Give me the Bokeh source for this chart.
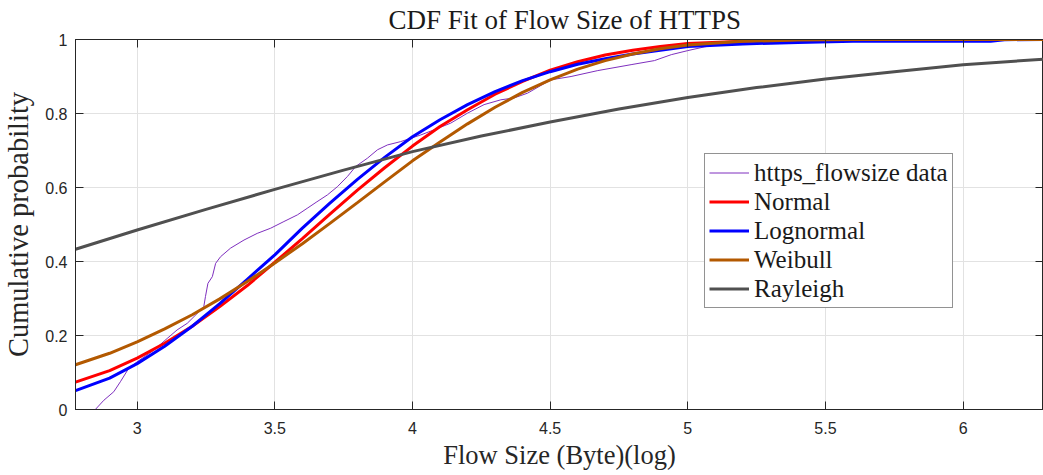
from bokeh.plotting import figure
from bokeh.models import Range1d, FixedTicker, LinearAxis, Legend, LegendItem
from bokeh.embed import file_html
from bokeh.resources import INLINE

# ---- data ----
fit_x = [2.776, 2.9, 3.0, 3.1, 3.2, 3.3, 3.4, 3.5, 3.6, 3.7, 3.8, 3.9, 4.0, 4.1, 4.2,
         4.3, 4.4, 4.5, 4.6, 4.7, 4.8, 4.9, 5.0, 5.2, 5.4, 5.6, 5.8, 6.0, 6.1, 6.15, 6.3]
normal_y = [0.074, 0.105, 0.139, 0.179, 0.225, 0.278, 0.335, 0.398, 0.462, 0.528, 0.593,
            0.654, 0.712, 0.765, 0.810, 0.852, 0.887, 0.917, 0.940, 0.958, 0.971, 0.981,
            0.989, 0.995, 0.998, 0.9995, 1.0, 1.0, 1.0, 1.0, 1.0]
lognormal_y = [0.051, 0.085, 0.124, 0.171, 0.225, 0.286, 0.352, 0.418, 0.490, 0.558, 0.622,
               0.682, 0.737, 0.783, 0.824, 0.859, 0.889, 0.913, 0.933, 0.948, 0.961, 0.971,
               0.981, 0.988, 0.992, 0.995, 0.995, 0.995, 0.995, 0.9995, 1.0]
weibull_y = [0.121, 0.152, 0.183, 0.218, 0.256, 0.299, 0.346, 0.396, 0.448, 0.503, 0.559,
             0.616, 0.672, 0.723, 0.772, 0.817, 0.857, 0.891, 0.920, 0.943, 0.961, 0.975,
             0.985, 0.995, 0.9986, 0.9997, 1.0, 1.0, 1.0, 1.0, 1.0]

ray_x = [2.776, 3.0, 3.25, 3.5, 3.75, 4.0, 4.25, 4.5, 4.75, 5.0, 5.25, 5.5, 5.75, 6.0, 6.3]
rayleigh_y = [0.433, 0.485, 0.541, 0.595, 0.647, 0.697, 0.739, 0.777, 0.812, 0.843,
              0.870, 0.893, 0.913, 0.932, 0.947]

data_x = [2.782, 2.848, 2.879, 2.915, 2.939, 2.969, 3.0, 3.06, 3.109, 3.145, 3.182, 3.224,
          3.242, 3.248, 3.257, 3.273, 3.285, 3.303, 3.339, 3.388, 3.436, 3.485, 3.533,
          3.582, 3.62, 3.65, 3.691, 3.727, 3.764, 3.794, 3.836, 3.873, 3.909, 3.957, 3.994,
          4.030, 4.079, 4.139, 4.2, 4.26, 4.321, 4.369, 4.418, 4.467, 4.503, 4.576, 4.673,
          4.794, 4.879, 4.94, 5.0, 5.06, 5.109, 5.182, 5.279, 5.5, 5.9]
data_y = [0.0, 0.0, 0.025, 0.048, 0.075, 0.111, 0.129, 0.160, 0.192, 0.215, 0.233, 0.264,
          0.278, 0.305, 0.341, 0.359, 0.395, 0.413, 0.436, 0.458, 0.476, 0.490, 0.508,
          0.526, 0.545, 0.560, 0.580, 0.602, 0.630, 0.657, 0.679, 0.702, 0.715, 0.724, 0.733,
          0.742, 0.756, 0.774, 0.801, 0.824, 0.837, 0.842, 0.855, 0.876, 0.891, 0.900, 0.916,
          0.932, 0.943, 0.959, 0.970, 0.980, 0.986, 0.992, 0.997, 0.999, 1.0]

x_ticks = [3, 3.5, 4, 4.5, 5, 5.5, 6]
x_tick_labels = ["3", "3.5", "4", "4.5", "5", "5.5", "6"]
y_ticks = [0, 0.2, 0.4, 0.6, 0.8, 1.0]
y_tick_labels = ["0", "0.2", "0.4", "0.6", "0.8", "1"]

series_names = ["https_flowsize data", "Normal", "Lognormal", "Weibull", "Rayleigh"]
series_colors = ["#7E2FBE", "#FF0000", "#0000FF", "#B35900", "#505050"]
title_text = "CDF Fit of Flow Size of HTTPS"

AX = "#262626"

p = figure(width=1043, height=475, output_backend="svg", toolbar_location=None,
           x_range=Range1d(2.776, 6.292), y_range=Range1d(0, 1),
           min_border_left=74, min_border_right=0, min_border_top=39, min_border_bottom=66,
           background_fill_color="white", border_fill_color="white")

p.outline_line_color = AX
p.outline_line_width = 1

p.title.text = title_text
p.title.align = "left"
p.title.offset = 313
p.title.vertical_align = "top"
p.title.text_font = "Liberation Serif"
p.title.text_font_size = "27px"
p.title.text_font_style = "normal"
p.title.text_color = "#1a1a1a"
p.title.standoff = 6

xt = FixedTicker(ticks=x_ticks)
yt = FixedTicker(ticks=y_ticks)

def style_axis(ax, labels=True):
    ax.axis_line_color = AX
    ax.axis_line_width = 1
    ax.major_tick_line_color = AX
    ax.major_tick_in = 8
    ax.major_tick_out = 0
    ax.minor_tick_line_color = None
    if labels:
        ax.major_label_text_font = "Liberation Sans"
        ax.major_label_text_font_size = "16px"
        ax.major_label_text_color = AX
    else:
        ax.major_label_text_font_size = "0px"
        ax.major_label_text_alpha = 0
        ax.major_label_standoff = 0

xa = p.xaxis[0]
xa.ticker = xt
xa.major_label_overrides = {t: l for t, l in zip(x_ticks, x_tick_labels)}
style_axis(xa)
xa.major_label_standoff = 12
xa.axis_label = "Flow Size (Byte)(log)"
xa.axis_label_text_font = "Liberation Serif"
xa.axis_label_text_font_size = "26.5px"
xa.axis_label_text_font_style = "normal"
xa.axis_label_text_color = AX
xa.axis_label_standoff = 3

ya = p.yaxis[0]
ya.ticker = yt
ya.major_label_overrides = {t: l for t, l in zip(y_ticks, y_tick_labels)}
style_axis(ya)
ya.major_label_standoff = 8
ya.axis_label = "Cumulative probability"
ya.axis_label_text_font = "Liberation Serif"
ya.axis_label_text_font_size = "28.5px"
ya.axis_label_text_font_style = "normal"
ya.axis_label_text_color = AX
ya.axis_label_standoff = 8

top = LinearAxis(ticker=xt)
style_axis(top, labels=False)
p.add_layout(top, "above")
right = LinearAxis(ticker=yt)
style_axis(right, labels=False)
p.add_layout(right, "right")

p.xgrid.ticker = xt
p.ygrid.ticker = yt
p.xgrid.grid_line_color = "#e2e2e2"
p.ygrid.grid_line_color = "#e2e2e2"

r_data = p.line(data_x, data_y, line_color=series_colors[0], line_width=1)
r_norm = p.line(fit_x, normal_y, line_color=series_colors[1], line_width=3)
r_logn = p.line(fit_x, lognormal_y, line_color=series_colors[2], line_width=3)
r_weib = p.line(fit_x, weibull_y, line_color=series_colors[3], line_width=3)
r_ray = p.line(ray_x, rayleigh_y, line_color=series_colors[4], line_width=3)

rends = [r_data, r_norm, r_logn, r_weib, r_ray]
legend = Legend(items=[LegendItem(label=n, renderers=[r]) for n, r in zip(series_names, rends)],
                location=(629, 101), orientation="vertical",
                label_text_font="Liberation Serif", label_text_font_size="25px",
                label_text_color="#1a1a1a",
                glyph_width=40, glyph_height=29, label_height=29, label_standoff=5,
                spacing=0, padding=4, margin=0,
                border_line_color=AX, border_line_width=1,
                background_fill_color="white", background_fill_alpha=1)
p.add_layout(legend)

open("out.html", "w").write(file_html(p, INLINE))
